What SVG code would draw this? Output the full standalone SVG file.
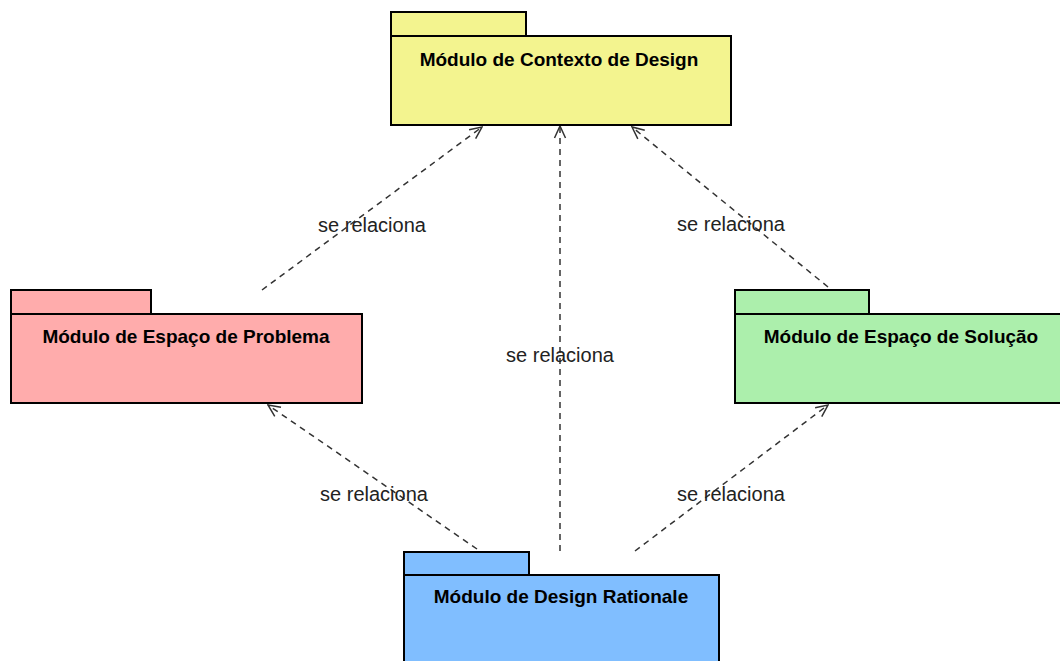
<svg xmlns="http://www.w3.org/2000/svg" width="1060" height="661" viewBox="0 0 1060 661">
<defs>
<style>
.pkg rect{stroke:#000;stroke-width:2}
.title{font-family:"Liberation Sans",Arial,sans-serif;font-weight:bold;font-size:19px;fill:#000;text-anchor:middle}
.lbl{font-family:"Liberation Sans",Arial,sans-serif;font-size:20px;fill:#222;text-anchor:middle}
.dep{fill:none;stroke:#333;stroke-width:1.5;stroke-dasharray:6,5}
</style>
<marker id="open" viewBox="0 0 14 14" refX="13" refY="7" markerWidth="14" markerHeight="14" markerUnits="userSpaceOnUse" orient="auto">
<path d="M1,1.5 L13,7 L1,12.5" fill="none" stroke="#333" stroke-width="1.5" stroke-dasharray="none"/>
</marker>
</defs>
<rect width="1060" height="661" fill="#fff"/>
<g id="connectors">
<line class="dep" x1="262" y1="290" x2="482" y2="127" marker-end="url(#open)"/>
<line class="dep" x1="560" y1="551" x2="560" y2="126" marker-end="url(#open)"/>
<line class="dep" x1="828" y1="287" x2="632" y2="127" marker-end="url(#open)"/>
<line class="dep" x1="477" y1="549" x2="268" y2="405" marker-end="url(#open)"/>
<line class="dep" x1="635" y1="551" x2="828" y2="405" marker-end="url(#open)"/>
<text class="lbl" x="372" y="232">se relaciona</text>
<text class="lbl" x="731" y="231">se relaciona</text>
<text class="lbl" x="560" y="362">se relaciona</text>
<text class="lbl" x="374" y="501">se relaciona</text>
<text class="lbl" x="731" y="501">se relaciona</text>
</g>
<g id="contexto" class="pkg">
<rect x="391" y="12" width="135" height="24" fill="#F3F48F"/>
<rect x="391" y="36" width="340" height="89" fill="#F3F48F"/>
<text class="title" x="559" y="66">Módulo de Contexto de Design</text>
</g>
<g id="problema" class="pkg">
<rect x="11" y="290" width="140" height="24" fill="#FFACAC"/>
<rect x="11" y="314" width="351" height="89" fill="#FFACAC"/>
<text class="title" x="186" y="343">Módulo de Espaço de Problema</text>
</g>
<g id="solucao" class="pkg">
<rect x="735" y="290" width="134" height="24" fill="#ACEFAC"/>
<rect x="735" y="314" width="332" height="89" fill="#ACEFAC"/>
<text class="title" x="901" y="343">Módulo de Espaço de Solução</text>
</g>
<g id="rationale" class="pkg">
<rect x="404" y="552" width="125" height="23" fill="#80BEFF"/>
<rect x="404" y="575" width="315" height="100" fill="#80BEFF"/>
<text class="title" x="561" y="603">Módulo de Design Rationale</text>
</g>
</svg>
